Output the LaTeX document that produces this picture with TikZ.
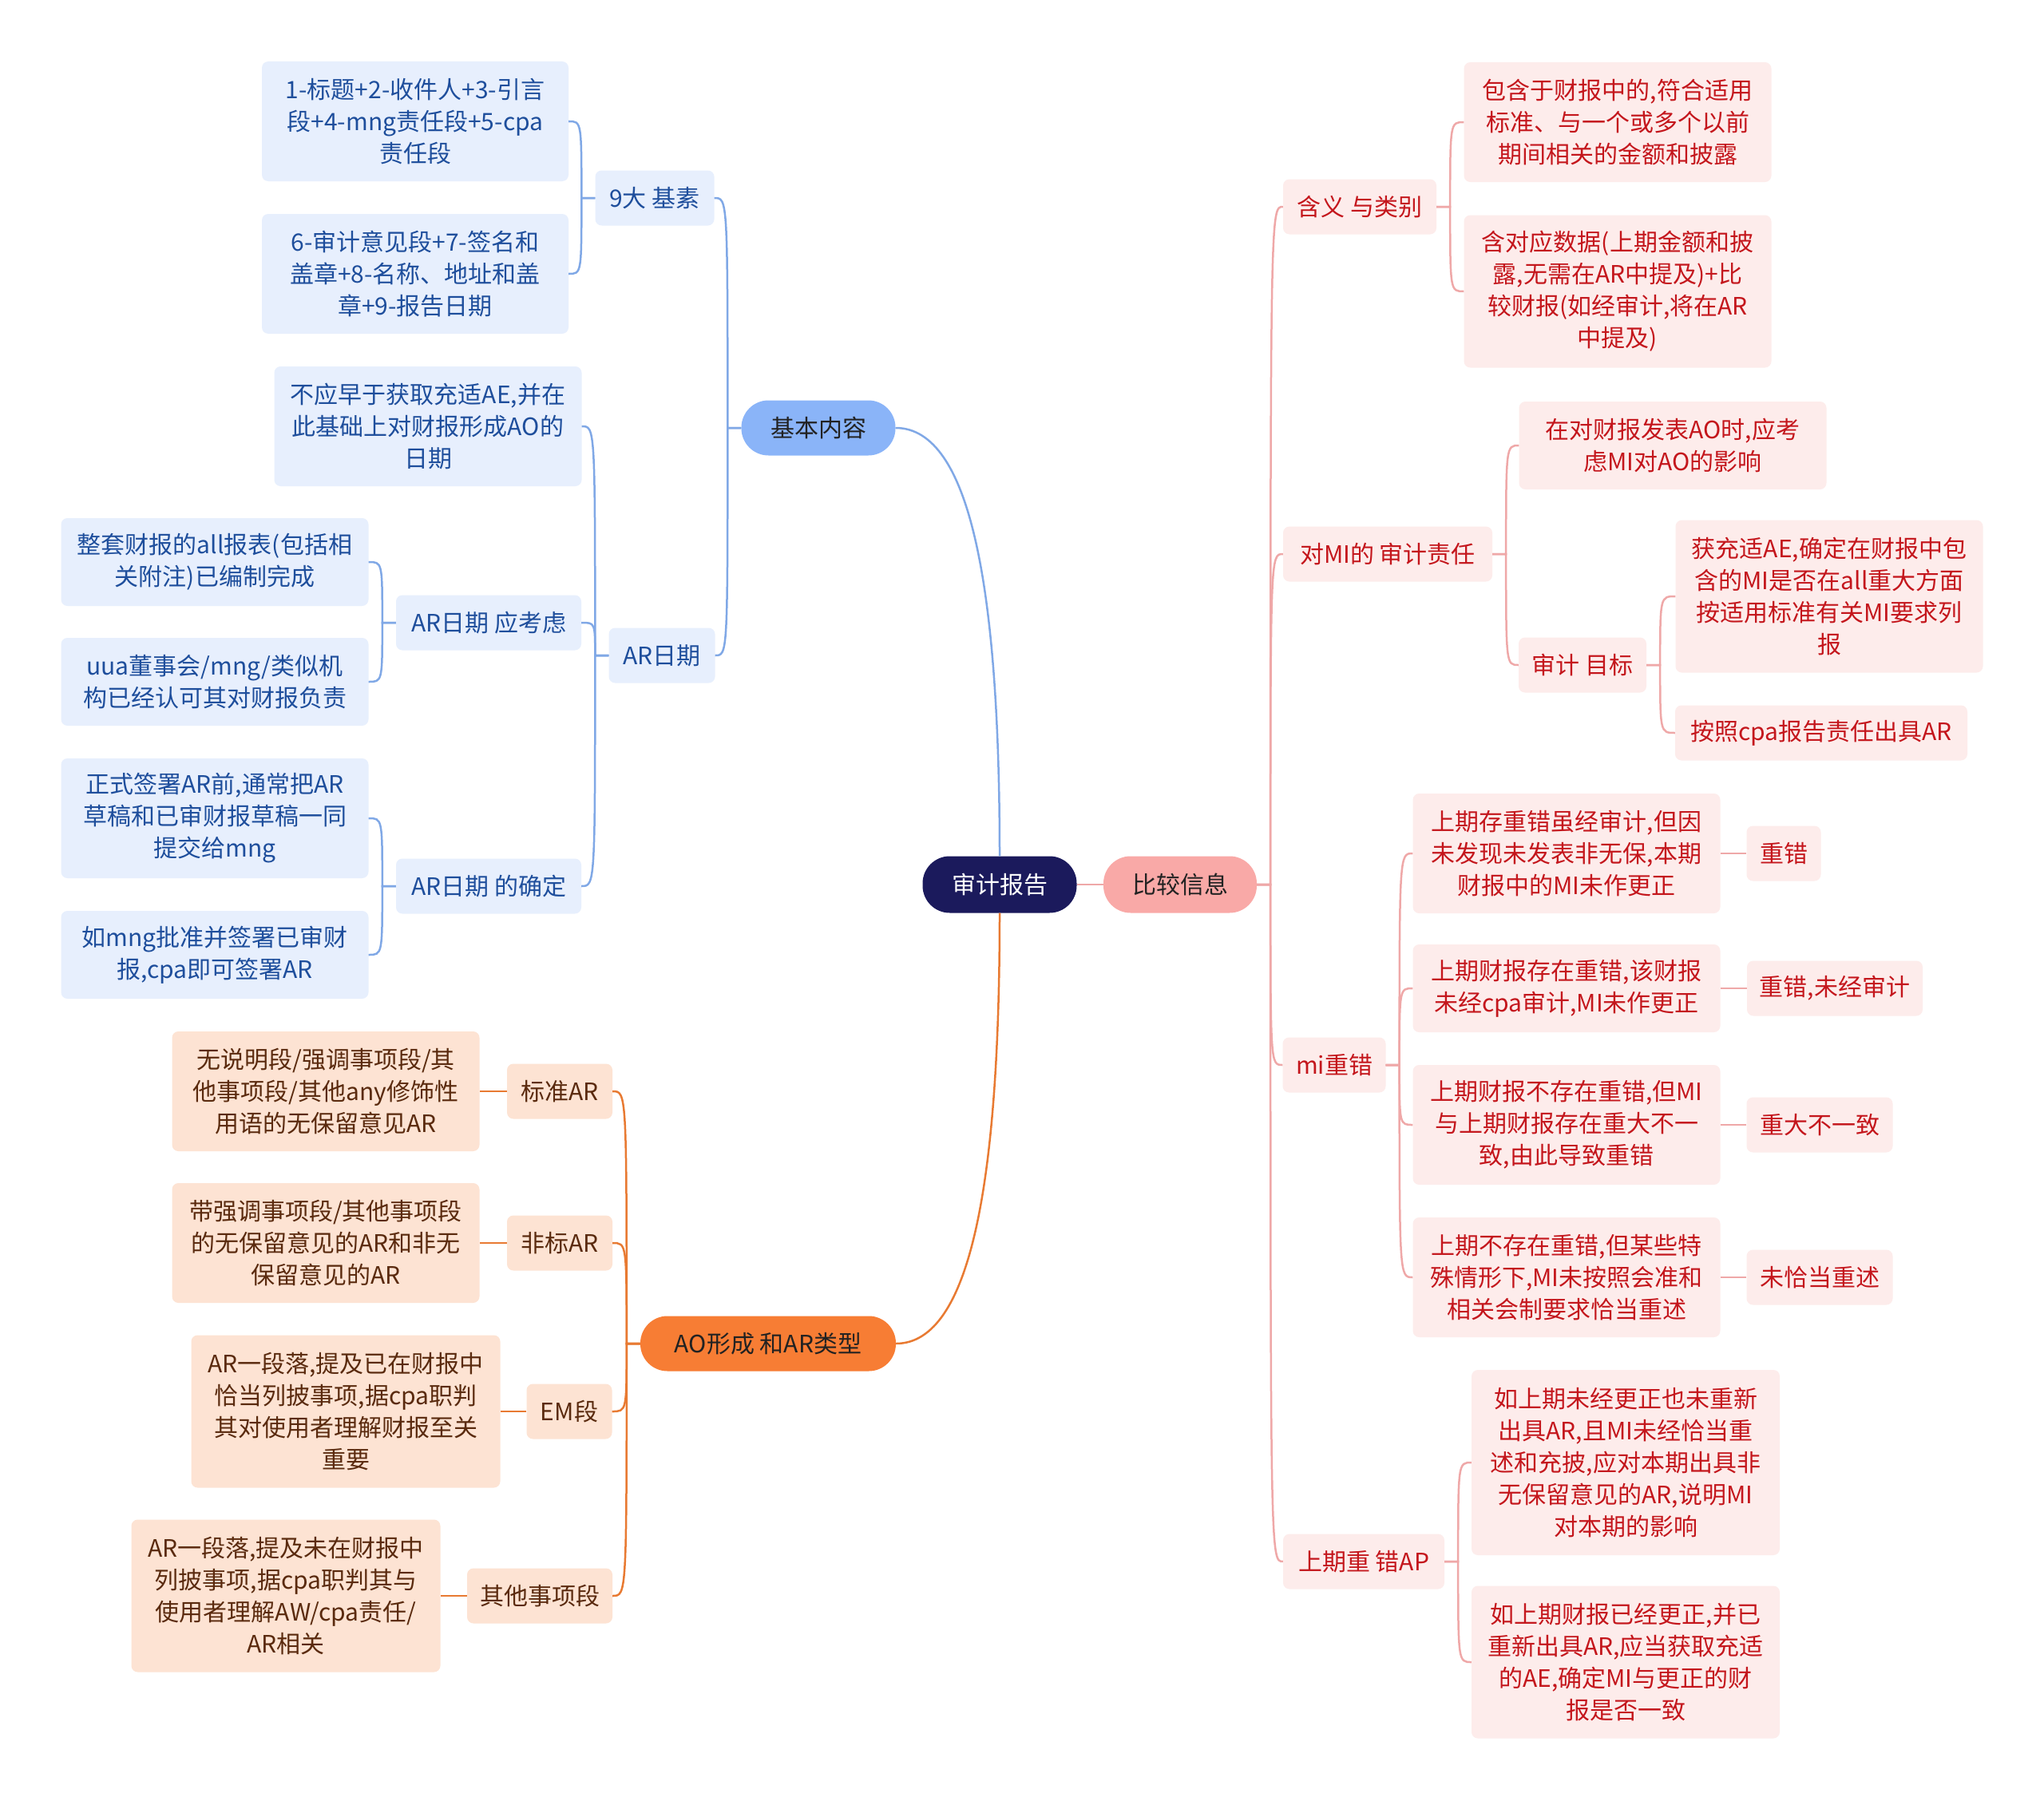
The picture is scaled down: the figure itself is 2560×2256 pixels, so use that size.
\documentclass[tikz,border=0pt]{standalone}
\usepackage{fontspec}
\newfontfamily\cjkf{Noto Sans CJK SC}
\newcommand\nfnt{\fontsize{30pt}{40pt}\cjkf}
\definecolor{rootfill}{HTML}{1B1A5C}
\definecolor{bluemain}{HTML}{8AB4F8}
\definecolor{bluefill}{HTML}{E7EFFD}
\definecolor{bluetext}{HTML}{1E4E9C}
\definecolor{bluelink}{HTML}{80A8E6}
\definecolor{redmain}{HTML}{F9A9A7}
\definecolor{redfill}{HTML}{FDECEB}
\definecolor{redtext}{HTML}{C4161C}
\definecolor{redlink}{HTML}{EFA8A8}
\definecolor{orgmain}{HTML}{F77D34}
\definecolor{orgfill}{HTML}{FDE3D3}
\definecolor{orgtext}{HTML}{5A2A0E}
\definecolor{orglink}{HTML}{E87A32}
\definecolor{darktext}{HTML}{222222}
\tikzset{
  box/.style 2 args={minimum width=#1pt, minimum height=#2pt},
  nbase/.style={inner sep=0pt, align=center, font=\nfnt},
  pill/.style={nbase, rounded corners=34pt},
  bsub/.style={nbase, rounded corners=8pt, fill=bluefill, text=bluetext},
  rsub/.style={nbase, rounded corners=8pt, fill=redfill, text=redtext},
  osub/.style={nbase, rounded corners=8pt, fill=orgfill, text=orgtext},
  blink/.style={draw=bluelink, line width=2.5pt},
  rlink/.style={draw=redlink, line width=2.5pt},
  olink/.style={draw=orglink, line width=2.5pt},
}
\newcommand\linkR[3]{\path (#2.east) ++(17,0) coordinate (tt);
  \draw[#1] (#2.east) -- (tt) .. controls (tt |- #3.west) .. (#3.west);}
\newcommand\linkL[3]{\path (#2.west) ++(-17,0) coordinate (tt);
  \draw[#1] (#2.west) -- (tt) .. controls (tt |- #3.east) .. (#3.east);}
\begin{document}
\begin{tikzpicture}[x=1pt,y=-1pt]
\useasboundingbox (0,0) rectangle (2560,2256);
\fill[white] (0,0) rectangle (2560,2256);

% main nodes
\node[pill, box={193}{71}, fill=rootfill, text=white] (root) at (1252,1108) {审计报告};
\node[pill, box={193}{69}, fill=bluemain, text=darktext] (bas) at (1025,536) {基本内容};
\node[pill, box={320}{69}, fill=orgmain, text=darktext] (ao) at (962,1683) {AO形成 和AR类型};
\node[pill, box={192}{71}, fill=redmain, text=darktext] (cmp) at (1478,1108) {比较信息};

% blue branch
\node[bsub, box={149}{69}] (b9) at (820,248) {9大 基素};
\node[bsub, box={384}{150}] (b9a) at (520,152) {1-标题+2-收件人+3-引言\\段+4-mng责任段+5-cpa\\责任段};
\node[bsub, box={384}{150}] (b9b) at (520,343) {6-审计意见段+7-签名和\\盖章+8-名称、地址和盖\\章+9-报告日期};
\node[bsub, box={133}{69}] (bar) at (829,821) {AR日期};
\node[bsub, box={385}{150}] (bara) at (536,534) {不应早于获取充适AE,并在\\此基础上对财报形成AO的\\日期};
\node[bsub, box={232}{69}] (barb) at (612,780) {AR日期 应考虑};
\node[bsub, box={385}{110}] (barb1) at (269,704) {整套财报的all报表(包括相\\关附注)已编制完成};
\node[bsub, box={385}{110}] (barb2) at (269,854) {uua董事会/mng/类似机\\构已经认可其对财报负责};
\node[bsub, box={232}{69}] (barc) at (612,1110) {AR日期 的确定};
\node[bsub, box={385}{150}] (barc1) at (269,1025) {正式签署AR前,通常把AR\\草稿和已审财报草稿一同\\提交给mng};
\node[bsub, box={385}{110}] (barc2) at (269,1196) {如mng批准并签署已审财\\报,cpa即可签署AR};

% orange branch
\node[osub, box={132}{69}] (o1) at (701,1367) {标准AR};
\node[osub, box={385}{150}] (o1a) at (408,1367) {无说明段/强调事项段/其\\他事项段/其他any修饰性\\用语的无保留意见AR};
\node[osub, box={132}{69}] (o2) at (701,1557) {非标AR};
\node[osub, box={385}{150}] (o2a) at (408,1557) {带强调事项段/其他事项段\\的无保留意见的AR和非无\\保留意见的AR};
\node[osub, box={107}{69}] (o3) at (713,1768) {EM段};
\node[osub, box={387}{191}] (o3a) at (433,1768) {AR一段落,提及已在财报中\\恰当列披事项,据cpa职判\\其对使用者理解财报至关\\重要};
\node[osub, box={182}{69}] (o4) at (676,1999) {其他事项段};
\node[osub, box={387}{191}] (o4a) at (358,1999) {AR一段落,提及未在财报中\\列披事项,据cpa职判其与\\使用者理解AW/cpa责任/\\AR相关};

% red branch
\node[rsub, box={192}{69}] (r1) at (1703,259) {含义 与类别};
\node[rsub, box={385}{150}] (r1a) at (2026,153) {包含于财报中的,符合适用\\标准、与一个或多个以前\\期间相关的金额和披露};
\node[rsub, box={385}{191}] (r1b) at (2026,365) {含对应数据(上期金额和披\\露,无需在AR中提及)+比\\较财报(如经审计,将在AR\\中提及)};
\node[rsub, box={262}{69}] (r2) at (1738,694) {对MI的 审计责任};
\node[rsub, box={385}{110}] (r2a) at (2095,558) {在对财报发表AO时,应考\\虑MI对AO的影响};
\node[rsub, box={160}{69}] (r2b) at (1982,833) {审计 目标};
\node[rsub, box={385}{191}] (r2b1) at (2291,747) {获充适AE,确定在财报中包\\含的MI是否在all重大方面\\按适用标准有关MI要求列\\报};
\node[rsub, box={366}{69}] (r2b2) at (2281,918) {按照cpa报告责任出具AR};
\node[rsub, box={129}{69}] (r3) at (1671,1334) {mi重错};
\node[rsub, box={385}{150}] (r3a) at (1962,1069) {上期存重错虽经审计,但因\\未发现未发表非无保,本期\\财报中的MI未作更正};
\node[rsub, box={93}{69}] (r3a1) at (2234,1069) {重错};
\node[rsub, box={385}{110}] (r3b) at (1962,1238) {上期财报存在重错,该财报\\未经cpa审计,MI未作更正};
\node[rsub, box={220}{69}] (r3b1) at (2298,1238) {重错,未经审计};
\node[rsub, box={385}{150}] (r3c) at (1962,1409) {上期财报不存在重错,但MI\\与上期财报存在重大不一\\致,由此导致重错};
\node[rsub, box={183}{69}] (r3c1) at (2279,1409) {重大不一致};
\node[rsub, box={385}{150}] (r3d) at (1962,1600) {上期不存在重错,但某些特\\殊情形下,MI未按照会准和\\相关会制要求恰当重述};
\node[rsub, box={183}{69}] (r3d1) at (2279,1600) {未恰当重述};
\node[rsub, box={202}{69}] (r4) at (1708,1956) {上期重 错AP};
\node[rsub, box={386}{232}] (r4a) at (2036,1832) {如上期未经更正也未重新\\出具AR,且MI未经恰当重\\述和充披,应对本期出具非\\无保留意见的AR,说明MI\\对本期的影响};
\node[rsub, box={386}{191}] (r4b) at (2036,2082) {如上期财报已经更正,并已\\重新出具AR,应当获取充适\\的AE,确定MI与更正的财\\报是否一致};

% root links
\draw[blink] (root.north) .. controls +(0,-330) and +(95,0) .. (bas.east);
\draw[olink] (root.south) .. controls +(0,330) and +(95,0) .. (ao.east);
\draw[rlink] (root.east) -- (cmp.west);

% blue links
\linkL{blink}{bas}{b9}
\linkL{blink}{bas}{bar}
\linkL{blink}{b9}{b9a}
\linkL{blink}{b9}{b9b}
\linkL{blink}{bar}{bara}
\linkL{blink}{bar}{barb}
\linkL{blink}{bar}{barc}
\linkL{blink}{barb}{barb1}
\linkL{blink}{barb}{barb2}
\linkL{blink}{barc}{barc1}
\linkL{blink}{barc}{barc2}

% orange links
\linkL{olink}{ao}{o1}
\linkL{olink}{ao}{o2}
\linkL{olink}{ao}{o3}
\linkL{olink}{ao}{o4}
\draw[olink] (o1.west) -- (o1a.east);
\draw[olink] (o2.west) -- (o2a.east);
\draw[olink] (o3.west) -- (o3a.east);
\draw[olink] (o4.west) -- (o4a.east);

% red links
\linkR{rlink}{cmp}{r1}
\linkR{rlink}{cmp}{r2}
\linkR{rlink}{cmp}{r3}
\linkR{rlink}{cmp}{r4}
\linkR{rlink}{r1}{r1a}
\linkR{rlink}{r1}{r1b}
\linkR{rlink}{r2}{r2a}
\linkR{rlink}{r2}{r2b}
\linkR{rlink}{r2b}{r2b1}
\linkR{rlink}{r2b}{r2b2}
\linkR{rlink}{r3}{r3a}
\linkR{rlink}{r3}{r3b}
\linkR{rlink}{r3}{r3c}
\linkR{rlink}{r3}{r3d}
\draw[rlink] (r3a.east) -- (r3a1.west);
\draw[rlink] (r3b.east) -- (r3b1.west);
\draw[rlink] (r3c.east) -- (r3c1.west);
\draw[rlink] (r3d.east) -- (r3d1.west);
\linkR{rlink}{r4}{r4a}
\linkR{rlink}{r4}{r4b}
\end{tikzpicture}
\end{document}
